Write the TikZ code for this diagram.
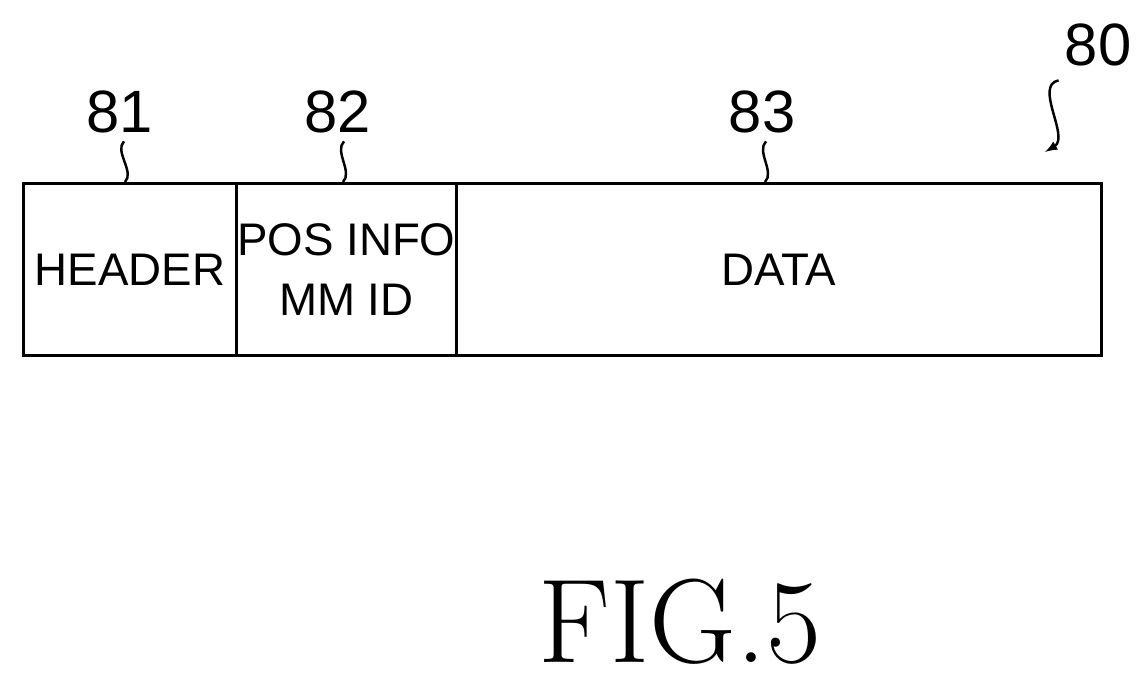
\documentclass[tikz,border=0pt]{standalone}
\usepackage{fontspec}
\setsansfont{Liberation Sans}
\usetikzlibrary{positioning}
\newcommand{\fld}[1]{\makebox[0pt]{#1}}
\begin{document}
\begin{tikzpicture}[x=0.02cm,y=-0.02cm,
  field/.style={draw,line width=1.6pt,minimum height=3.44cm,inner sep=0pt,align=center,font=\sffamily\fontsize{26}{30}\selectfont},
  refnum/.style={font=\sffamily\fontsize{34}{34}\selectfont},
  lead/.style={line width=1.4pt}]
\useasboundingbox (0,0) rectangle (1145,695);

\node[field,minimum width=4.26cm,anchor=north west] (hdr) at (22,182) {\fld{HEADER}};
\node[field,minimum width=4.4cm,right=-1.6pt of hdr] (pos) {\fld{POS INFO}\\[4pt]\fld{MM ID}};
\node[field,minimum width=12.9cm,right=-1.6pt of pos] (dat) {\fld{DATA}};

\node[refnum] (n81) at (120,112) {81};
\node[refnum] (n82) at (338,112) {82};
\node[refnum] (n83) at (762,112) {83};
\node[refnum] (n80) at (1098,45) {80};

\draw[lead] (n81.south) ++(4,2) .. controls +(-10,10) and +(10,-10) .. (hdr.north -| 125,0);
\draw[lead] (n82.south) ++(6,2) .. controls +(-10,10) and +(10,-10) .. (pos.north -| 343,0);
\draw[lead] (n83.south) ++(4,2) .. controls +(-10,10) and +(10,-10) .. (dat.north -| 765,0);
\coordinate (tip80) at (1045,152);
\draw[lead,-latex] (n80.south west) ++(0,8) .. controls +(-25,5) and +(25,-15) .. (tip80);

\node[font=\fontsize{68}{68}\selectfont] (fig) at (680,622) {FIG.5};
\end{tikzpicture}
\end{document}
